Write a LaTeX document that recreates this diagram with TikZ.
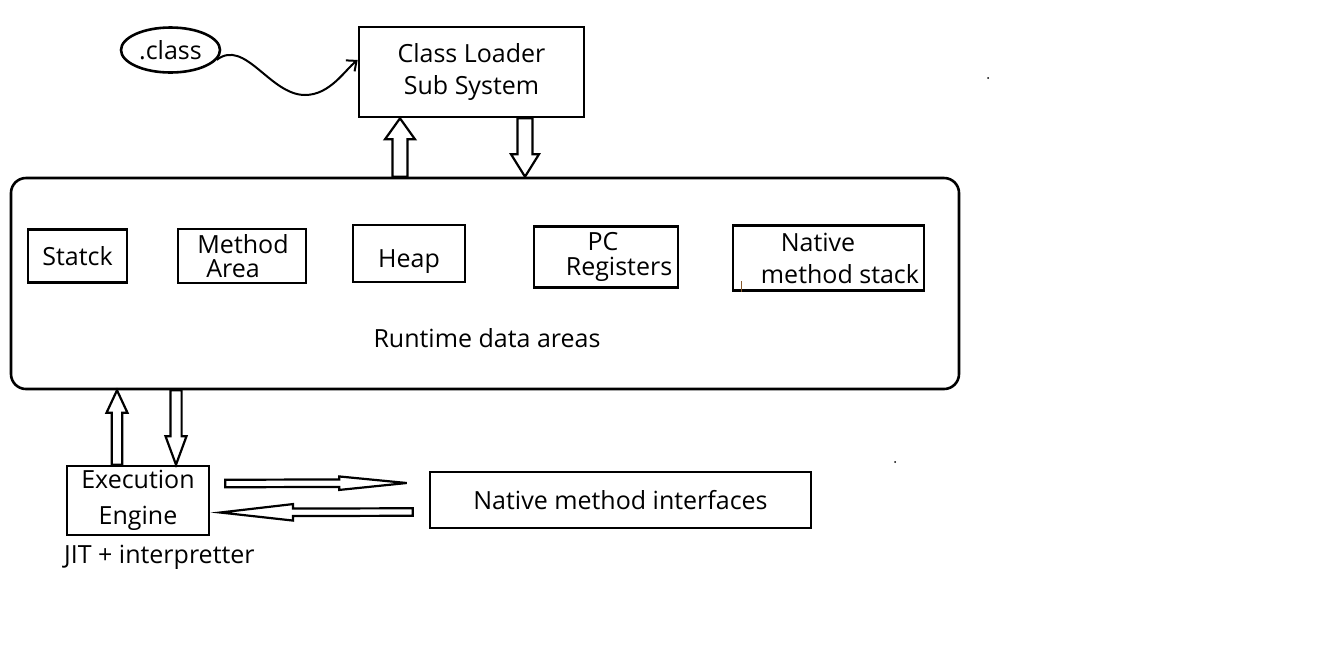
\documentclass[tikz,border=0pt]{standalone}
\usepackage{fontspec}
\setmainfont{Open Sans}
\usetikzlibrary{shapes.geometric,calc,arrows.meta}
\tikzset{
  box/.style={draw,line width=2.6pt,inner sep=0pt,align=center},
  blockline/.style={draw,line width=2.2pt,fill=white,line join=miter},
  wire/.style={line width=2pt}
}
% hollow block arrow: from, to, shaft half width, head half width, head length
\newcommand{\blockarrow}[5]{%
  \coordinate (ba-h) at ($(#2)!#5!(#1)$);
  \draw[blockline] ($(#1)!#3!90:(#2)$) -- ($(ba-h)!#3!-90:(#1)$) -- ($(ba-h)!#4!-90:(#1)$)
    -- (#2) -- ($(ba-h)!#4!90:(#1)$) -- ($(ba-h)!#3!90:(#1)$) -- ($(#1)!#3!-90:(#2)$) -- cycle;}
\begin{document}
\begin{tikzpicture}[x=1pt,y=-1pt,font=\fontsize{25}{32}\selectfont]
  \useasboundingbox (0,0) rectangle (1332,657);
  % loader
  \node[box,ellipse,minimum width=99pt,minimum height=45pt] (class) at (170.5,50) {.class};
  \node[box,minimum width=225pt,minimum height=90pt] (loader) at (471.5,72) {Class Loader\\Sub System};
  \coordinate (cl-in) at ($(loader.north west)!0.37!(loader.south west)$);
  \draw[wire,-{Straight Barb[length=8pt,width=14pt]}] (class.-12) .. controls (245,38) and (270,95) .. (305,95)
    .. controls (330,95) and (345,70) .. (cl-in);
  % runtime data areas
  \node[box,rounded corners=15pt,minimum width=948pt,minimum height=211pt] (runtime) at (485,283.5) {};
  \node (rtlabel) at (487,338) {Runtime data areas};
  \node[box,minimum width=99pt,minimum height=53pt] (stack) at (77.5,256) {Statck};
  \node[box,minimum width=128pt,minimum height=54pt] (method) at (242,256) {\hspace*{2pt}Method\\[-8pt]\hspace*{-18pt}Area};
  \node[box,minimum width=112pt,minimum height=57pt] (heap) at (409,253.5) {\raisebox{-8pt}[\height][\depth]{Heap}};
  \node[box,minimum width=144pt,minimum height=61pt] (pc) at (606,257) {\hspace*{-6pt}PC\\[-7pt]\hspace*{26pt}Registers};
  \node[box,minimum width=191pt,minimum height=65pt] (native) at (828.5,258) {\hspace*{-21pt}Native\\\hspace*{23pt}method stack};
  \draw[line width=0.6pt,brown!70!black] (741,281) -- (741,292);
  % execution
  \node[box,minimum width=142pt,minimum height=69pt] (exec) at (138,500.5) {Execution\\[4pt]Engine};
  \node[anchor=west,inner sep=0pt] (jit) at (64,557) {JIT + interpretter};
  \node[box,minimum width=381pt,minimum height=56pt] (nmi) at (620.5,500) {Native method interfaces};
  % block arrows
  \blockarrow{$(runtime.north)+(-85,0)$}{$(loader.south)+(-71.5,0)$}{7.5pt}{15pt}{21pt}
  \blockarrow{$(loader.south)+(53.5,0)$}{$(runtime.north)+(40,0)$}{7.5pt}{14pt}{22.5pt}
  \blockarrow{$(exec.north)+(-21,0)$}{$(runtime.south)+(-368,0)$}{5.25pt}{10.5pt}{22.5pt}
  \blockarrow{$(runtime.south)+(-309,0)$}{$(exec.north)+(38,0)$}{5.6pt}{10.5pt}{28.5pt}
  \coordinate (to-nmi-a) at ($(exec.east)+(15,-17)$);
  \coordinate (to-nmi-b) at ($(nmi.west)+(-22,-17)$);
  \coordinate (to-exec-a) at ($(nmi.west)+(-16,12)$);
  \coordinate (to-exec-b) at ($(exec.east)+(10,12)$);
  \blockarrow{to-nmi-a}{to-nmi-b}{3.75pt}{6.75pt}{67.5pt}
  \blockarrow{to-exec-a}{to-exec-b}{3.75pt}{8.25pt}{72.75pt}
  % stray dots
  \fill (988,78) circle (1pt);
  \fill (895,462) circle (1pt);
\end{tikzpicture}
\end{document}
